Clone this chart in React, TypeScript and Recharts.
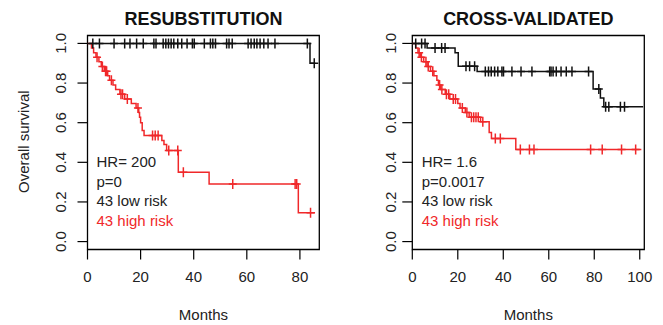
import React from 'react';
import {
  ComposedChart,
  Line,
  Scatter,
  XAxis,
  YAxis,
  ReferenceArea,
} from 'recharts';

// Kaplan-Meier steps: [months, survival]
const leftLowSteps = [[0, 1], [83.8, 0.9], [85.8, 0.9]];
const leftLowCensor = [
  [2, 1], [4.5, 1], [10, 1], [14, 1], [16, 1], [18.5, 1], [21, 1], [25, 1], [25.8, 1],
  [28.5, 1], [29.5, 1], [30.5, 1], [31.5, 1], [32.5, 1], [34, 1], [35.5, 1], [37.5, 1],
  [39.5, 1], [40.2, 1], [44, 1], [46.3, 1], [47.2, 1], [48.2, 1], [52.4, 1], [53.3, 1],
  [54.5, 1], [60.5, 1], [61.6, 1], [62.8, 1], [63.8, 1], [65, 1], [66.4, 1], [68, 1],
  [70.6, 1], [82.8, 1], [85.4, 0.9],
];
const leftHighSteps = [
  [0, 1], [1.5, 0.977], [2.3, 0.953], [3.2, 0.93], [4.3, 0.907], [5.2, 0.884], [6.3, 0.86],
  [7.6, 0.837], [8.3, 0.814], [9.6, 0.79], [10.6, 0.767], [12.2, 0.744], [14, 0.72],
  [16.5, 0.697], [18.3, 0.674], [19.3, 0.651], [19.6, 0.627], [20, 0.6], [20.6, 0.56],
  [21.3, 0.535], [28, 0.51], [28.8, 0.49], [29.8, 0.46], [34.2, 0.35], [45.8, 0.29],
  [79.4, 0.145], [85.7, 0.145],
];
const leftHighCensor = [
  [3.6, 0.93], [5.6, 0.884], [6.8, 0.86], [7.2, 0.86], [9, 0.814], [12.6, 0.744],
  [13.2, 0.744], [15, 0.72], [19, 0.674], [24.5, 0.535], [25.5, 0.535], [26.6, 0.535],
  [30.6, 0.46], [34, 0.46], [36.1, 0.35], [54.7, 0.29], [78.2, 0.29], [78.8, 0.29],
  [84, 0.145],
];

const rightLowSteps = [
  [0, 1], [6.5, 0.977], [18.8, 0.953], [20.2, 0.885], [28.5, 0.858], [79.5, 0.77],
  [82.7, 0.725], [84.2, 0.68], [101.5, 0.68],
];
const rightLowCensor = [
  [1.5, 1], [4.1, 1], [5.6, 1], [10, 0.977], [12.9, 0.977], [14.4, 0.977],
  [23.6, 0.885], [25.2, 0.885], [27.4, 0.885],
  [32.1, 0.858], [33.5, 0.858], [34.7, 0.858], [36.2, 0.858], [37.6, 0.858], [39.4, 0.858],
  [40.1, 0.858], [43.8, 0.858], [47.8, 0.858], [52.6, 0.858], [60.4, 0.858], [61, 0.858],
  [61.9, 0.858], [63.3, 0.858], [65.4, 0.858], [67.7, 0.858], [70.2, 0.858], [77.5, 0.858],
  [82, 0.77], [85, 0.68], [86.4, 0.68], [91.5, 0.68], [93.3, 0.68],
];
const rightHighSteps = [
  [0, 1], [1.5, 0.977], [2.5, 0.953], [3.5, 0.93], [5, 0.907], [6.5, 0.884], [8, 0.86],
  [9.5, 0.837], [10.8, 0.814], [11.5, 0.79], [12.5, 0.767], [14.5, 0.744], [16.5, 0.72],
  [20, 0.697], [21, 0.674], [23.3, 0.651], [25, 0.628], [30, 0.605], [33.8, 0.55],
  [34.8, 0.52], [45.5, 0.465], [100.7, 0.465],
];
const rightHighCensor = [
  [3, 0.953], [4, 0.93], [6, 0.907], [7, 0.884], [9, 0.86], [12, 0.79], [13, 0.767],
  [15, 0.744], [16, 0.744], [18, 0.72], [19, 0.72], [22, 0.674], [24, 0.651], [26, 0.628],
  [27, 0.628], [28, 0.628], [29, 0.628], [31, 0.605], [36.5, 0.52], [38.7, 0.52],
  [47.5, 0.465], [51.5, 0.465], [53.5, 0.465], [78.4, 0.465], [83.5, 0.465], [92, 0.465],
  [98.2, 0.465],
];

const yTicks = [0, 0.2, 0.4, 0.6, 0.8, 1];
const leftXTicks = [0, 20, 40, 60, 80];
const rightXTicks = [0, 20, 40, 60, 80, 100];
const leftStats = ['HR= 200', 'p=0', '43 low risk', '43 high risk'];
const rightStats = ['HR= 1.6', 'p=0.0017', '43 low risk', '43 high risk'];

const RED = '#f0282a';
const BLACK = '#111';
const FONT = '"Liberation Sans", Arial, sans-serif';

const toPts = (arr: number[][]) => arr.map(([t, s]) => ({ t, s }));

const plus = (color: string) => (props: any) => {
  const { cx, cy } = props;
  return (
    <path
      d={`M${cx - 4},${cy}H${cx + 4}M${cx},${cy - 5}V${cy + 5}`}
      stroke={color}
      strokeWidth={1.5}
      fill="none"
    />
  );
};

const YTick = ({ x, y, payload }: any) => (
  <text
    x={x}
    y={y}
    transform={`rotate(-90 ${x} ${y})`}
    textAnchor="middle"
    fontSize={15}
    fontFamily={FONT}
    fill="#222"
  >
    {Number(payload.value).toFixed(1)}
  </text>
);

interface PanelProps {
  left: number;
  width: number;
  yAxisWidth: number;
  rightMargin: number;
  xMax: number;
  xTicks: number[];
  yTickMargin: number;
  low: number[][];
  lowCensor: number[][];
  high: number[][];
  highCensor: number[][];
}

function Panel(p: PanelProps) {
  return (
    <div style={{ position: 'absolute', left: p.left, top: 0 }}>
      <ComposedChart
        width={p.width}
        height={325}
        margin={{ top: 35.5, right: p.rightMargin, bottom: 35.5, left: 0 }}
      >
        <XAxis
          dataKey="t"
          type="number"
          domain={[0, p.xMax]}
          ticks={p.xTicks}
          allowDataOverflow
          axisLine={false}
          tickLine={{ stroke: '#000', strokeWidth: 1.2 }}
          tickSize={10}
          tickMargin={12}
          height={40}
          tick={{ fontSize: 15, fontFamily: FONT, fill: '#222' }}
        />
        <YAxis
          dataKey="s"
          type="number"
          domain={[-0.04, 1.04]}
          ticks={yTicks}
          allowDataOverflow
          axisLine={false}
          tickLine={{ stroke: '#000', strokeWidth: 1.2 }}
          tickSize={10}
          tickMargin={p.yTickMargin}
          width={p.yAxisWidth}
          tick={<YTick />}
        />
        <ReferenceArea
          x1={0}
          x2={p.xMax}
          y1={-0.04}
          y2={1.04}
          fill="none"
          stroke="#000"
          strokeWidth={1.3}
          ifOverflow="visible"
        />
        <Line
          data={toPts(p.high)}
          dataKey="s"
          type="stepAfter"
          stroke={RED}
          strokeWidth={1.5}
          dot={false}
          isAnimationActive={false}
        />
        <Line
          data={toPts(p.low)}
          dataKey="s"
          type="stepAfter"
          stroke={BLACK}
          strokeWidth={1.5}
          dot={false}
          isAnimationActive={false}
        />
        <Scatter data={toPts(p.highCensor)} dataKey="s" shape={plus(RED)} isAnimationActive={false} />
        <Scatter data={toPts(p.lowCensor)} dataKey="s" shape={plus(BLACK)} isAnimationActive={false} />
      </ComposedChart>
    </div>
  );
}

function Stats({ x, lines }: { x: number; lines: string[] }) {
  return (
    <>
      {lines.map((l, i) => (
        <text key={l} x={x} y={167.3 + i * 19.5} fontSize={15} fill={i === 3 ? RED : '#222'}>
          {l}
        </text>
      ))}
    </>
  );
}

export default function App() {
  return (
    <div
      style={{
        position: 'absolute',
        left: 0,
        top: 0,
        width: 663,
        height: 325,
        background: '#fff',
        fontFamily: FONT,
      }}
    >
      <Panel
        left={0}
        width={331}
        yAxisWidth={87.5}
        rightMargin={11.7}
        xMax={87.3}
        xTicks={leftXTicks}
        yTickMargin={11}
        low={leftLowSteps}
        lowCensor={leftLowCensor}
        high={leftHighSteps}
        highCensor={leftHighCensor}
      />
      <Panel
        left={331}
        width={332}
        yAxisWidth={81.3}
        rightMargin={18.7}
        xMax={102}
        xTicks={rightXTicks}
        yTickMargin={6}
        low={rightLowSteps}
        lowCensor={rightLowCensor}
        high={rightHighSteps}
        highCensor={rightHighCensor}
      />
      <svg
        width={663}
        height={325}
        style={{ position: 'absolute', left: 0, top: 0, pointerEvents: 'none' }}
        fontFamily={FONT}
      >
        <text x={203.4} y={25} textAnchor="middle" fontSize={18} fontWeight="bold" fill="#111">
          RESUBSTITUTION
        </text>
        <text x={528.3} y={25} textAnchor="middle" fontSize={18} fontWeight="bold" fill="#111">
          CROSS-VALIDATED
        </text>
        <text
          x={29}
          y={141.7}
          transform="rotate(-90 29 141.7)"
          textAnchor="middle"
          fontSize={15}
          fill="#222"
        >
          Overall survival
        </text>
        <text x={203.4} y={320} textAnchor="middle" fontSize={15} fill="#222">
          Months
        </text>
        <text x={528.3} y={320} textAnchor="middle" fontSize={15} fill="#222">
          Months
        </text>
        <Stats x={96.5} lines={leftStats} />
        <Stats x={421.7} lines={rightStats} />
      </svg>
    </div>
  );
}
